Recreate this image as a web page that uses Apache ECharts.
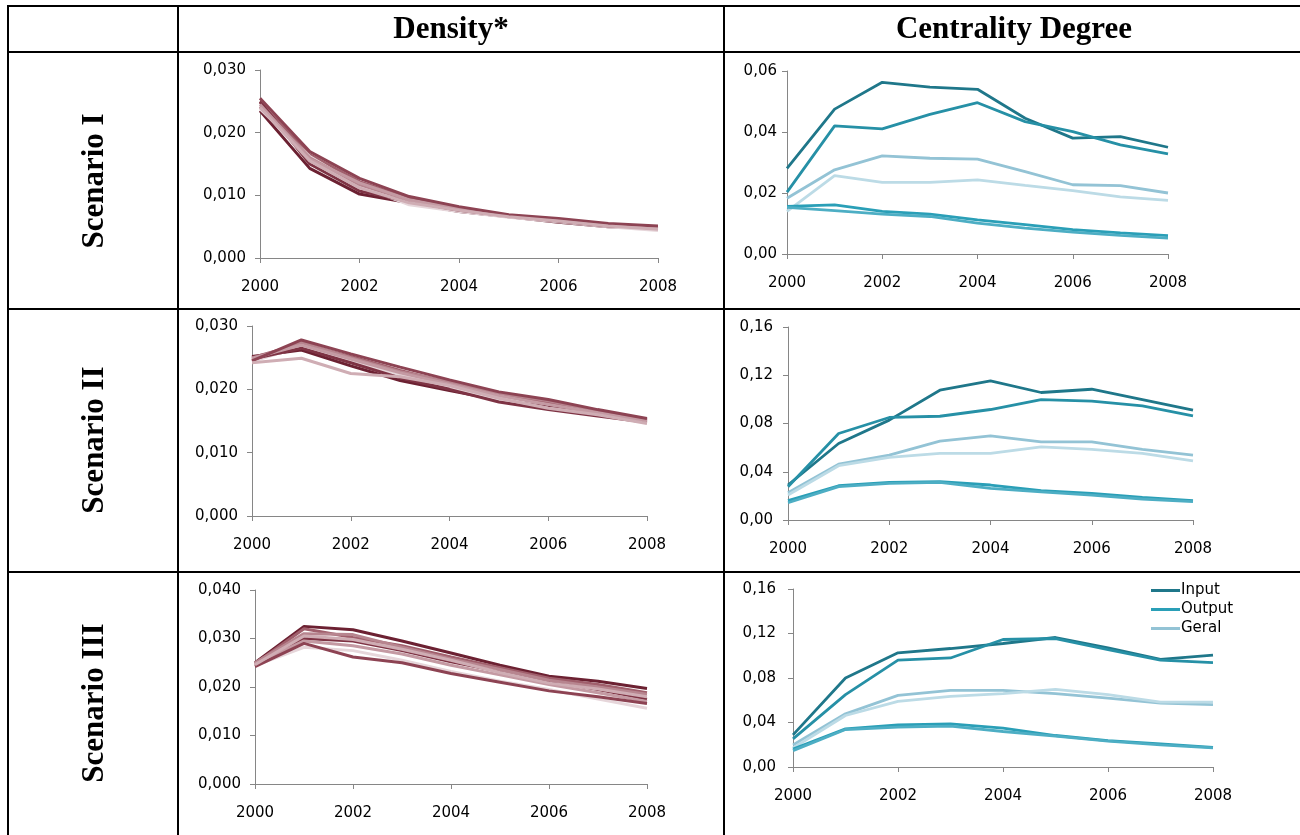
<!DOCTYPE html>
<html>
<head>
<meta charset="utf-8">
<script src="https://cdn.jsdelivr.net/npm/echarts@6/dist/echarts.min.js"></script>
<style>
html,body{margin:0;padding:0;background:#fff;}
#c{width:1300px;height:835px;}
</style>
</head>
<body>
<div id="c"></div>
<script>
// ---------------- DATA ----------------
const years = [2000, 2001, 2002, 2003, 2004, 2005, 2006, 2007, 2008];
const columnTitles = ['Density*', 'Centrality Degree'];
const rowTitles = ['Scenario I', 'Scenario II', 'Scenario III'];
const legendNames = ['Input', 'Output', 'Geral'];

// Density, Scenario I (several simulation runs)
const densityI = [
  [0.0235, 0.0143, 0.0102, 0.0088, 0.0074, 0.0066, 0.0057, 0.0050, 0.0048],
  [0.0250, 0.0150, 0.0107, 0.0090, 0.0076, 0.0067, 0.0059, 0.0051, 0.0049],
  [0.0255, 0.0170, 0.0127, 0.0098, 0.0082, 0.0069, 0.0063, 0.0055, 0.0051],
  [0.0248, 0.0165, 0.0122, 0.0095, 0.0080, 0.0068, 0.0061, 0.0053, 0.0050],
  [0.0242, 0.0160, 0.0117, 0.0092, 0.0078, 0.0067, 0.0060, 0.0052, 0.0048],
  [0.0240, 0.0155, 0.0112, 0.0088, 0.0076, 0.0066, 0.0059, 0.0051, 0.0046],
  [0.0238, 0.0162, 0.0115, 0.0085, 0.0074, 0.0065, 0.0058, 0.0050, 0.0044],
  [0.0245, 0.0158, 0.0120, 0.0093, 0.0079, 0.0068, 0.0062, 0.0054, 0.0047]
];
// Density, Scenario II
const densityII = [
  [0.0252, 0.0262, 0.0237, 0.0214, 0.0198, 0.0183, 0.0172, 0.0162, 0.0152],
  [0.0248, 0.0265, 0.0242, 0.0218, 0.0200, 0.0180, 0.0168, 0.0158, 0.0148],
  [0.0245, 0.0278, 0.0256, 0.0235, 0.0215, 0.0196, 0.0184, 0.0168, 0.0154],
  [0.0250, 0.0272, 0.0252, 0.0230, 0.0210, 0.0192, 0.0180, 0.0165, 0.0150],
  [0.0246, 0.0275, 0.0250, 0.0228, 0.0212, 0.0194, 0.0182, 0.0166, 0.0152],
  [0.0242, 0.0249, 0.0225, 0.0220, 0.0206, 0.0186, 0.0170, 0.0160, 0.0146],
  [0.0244, 0.0268, 0.0245, 0.0222, 0.0204, 0.0184, 0.0170, 0.0160, 0.0148],
  [0.0249, 0.0270, 0.0248, 0.0226, 0.0208, 0.0190, 0.0176, 0.0163, 0.0150]
];
// Density, Scenario III
const densityIII = [
  [0.0250, 0.0325, 0.0318, 0.0295, 0.0270, 0.0245, 0.0222, 0.0212, 0.0197],
  [0.0245, 0.0300, 0.0295, 0.0275, 0.0252, 0.0232, 0.0212, 0.0195, 0.0175],
  [0.0242, 0.0290, 0.0262, 0.0250, 0.0228, 0.0210, 0.0192, 0.0180, 0.0166],
  [0.0248, 0.0320, 0.0302, 0.0285, 0.0262, 0.0240, 0.0218, 0.0205, 0.0188],
  [0.0250, 0.0310, 0.0308, 0.0282, 0.0258, 0.0236, 0.0214, 0.0200, 0.0185],
  [0.0246, 0.0305, 0.0298, 0.0278, 0.0255, 0.0230, 0.0208, 0.0196, 0.0180],
  [0.0244, 0.0282, 0.0275, 0.0255, 0.0232, 0.0212, 0.0195, 0.0175, 0.0156],
  [0.0247, 0.0295, 0.0285, 0.0268, 0.0245, 0.0225, 0.0205, 0.0188, 0.0170]
];

// Centrality degree, Scenario I
const centralityI_Input  = [
  [0.0281, 0.0475, 0.0563, 0.0547, 0.0540, 0.0445, 0.0380, 0.0385, 0.0350],
  [0.0203, 0.0420, 0.0410, 0.0458, 0.0496, 0.0434, 0.0401, 0.0358, 0.0328]
];
const centralityI_Output = [
  [0.0156, 0.0161, 0.0140, 0.0131, 0.0112, 0.0096, 0.0080, 0.0069, 0.0060],
  [0.0153, 0.0142, 0.0131, 0.0123, 0.0101, 0.0085, 0.0072, 0.0061, 0.0052]
];
const centralityI_Geral  = [
  [0.0183, 0.0276, 0.0322, 0.0314, 0.0311, 0.0270, 0.0227, 0.0224, 0.0200],
  [0.0140, 0.0257, 0.0235, 0.0235, 0.0243, 0.0225, 0.0208, 0.0187, 0.0176]
];
// Centrality degree, Scenario II
const centralityII_Input  = [
  [0.0290, 0.0634, 0.0828, 0.1076, 0.1153, 0.1057, 0.1084, 0.0998, 0.0910],
  [0.0276, 0.0717, 0.0850, 0.0860, 0.0916, 0.0998, 0.0985, 0.0946, 0.0863]
];
const centralityII_Output = [
  [0.0160, 0.0284, 0.0312, 0.0317, 0.0290, 0.0243, 0.0221, 0.0188, 0.0160],
  [0.0143, 0.0276, 0.0303, 0.0312, 0.0262, 0.0234, 0.0207, 0.0174, 0.0152]
];
const centralityII_Geral  = [
  [0.0226, 0.0463, 0.0538, 0.0654, 0.0698, 0.0648, 0.0648, 0.0585, 0.0538],
  [0.0207, 0.0450, 0.0519, 0.0552, 0.0552, 0.0607, 0.0585, 0.0552, 0.0491]
];
// Centrality degree, Scenario III
const centralityIII_Input  = [
  [0.0289, 0.0800, 0.1026, 0.1065, 0.1110, 0.1164, 0.1070, 0.0968, 0.1005],
  [0.0253, 0.0650, 0.0960, 0.0980, 0.1146, 0.1155, 0.1056, 0.0960, 0.0938]
];
const centralityIII_Output = [
  [0.0162, 0.0343, 0.0379, 0.0388, 0.0349, 0.0283, 0.0238, 0.0208, 0.0177],
  [0.0147, 0.0337, 0.0358, 0.0367, 0.0319, 0.0277, 0.0232, 0.0198, 0.0171]
];
const centralityIII_Geral  = [
  [0.0198, 0.0478, 0.0644, 0.0689, 0.0689, 0.0659, 0.0620, 0.0574, 0.0560],
  [0.0171, 0.0463, 0.0590, 0.0635, 0.0659, 0.0698, 0.0650, 0.0583, 0.0583]
];

// Axis ranges
const densityMax = [0.03, 0.03, 0.04];
const densityStep = [0.01, 0.01, 0.01];
const centralityMax = [0.06, 0.16, 0.16];
const centralityStep = [0.02, 0.04, 0.04];

// ---------------- STYLE / LAYOUT ----------------
const densityColors = ['#6c2132', '#7e3344', '#8d4353', '#a05f6c', '#b7858f', '#cfadb4', '#e6d6da', '#c49aa3'];
const inputColors  = ['#1f778a', '#2690a6'];
const outputColors = ['#2a9fb7', '#4daec4'];
const geralColors  = ['#93c3d5', '#bcdbe6'];

const densityGrids = [
  {left: 260, top: 70, width: 398, height: 188, labelMargin: 14},
  {left: 252, top: 326, width: 395, height: 190, labelMargin: 14},
  {left: 255, top: 590, width: 392, height: 194, labelMargin: 14}
];
const centralityGrids = [
  {left: 787, top: 71, width: 381, height: 183, labelMargin: 10},
  {left: 788, top: 327, width: 405, height: 193, labelMargin: 15},
  {left: 793, top: 589, width: 420, height: 178, labelMargin: 17}
];

const axisColor = '#868686';
const labelFont = {color: '#000', fontFamily: 'DejaVu Sans', fontSize: 15};

const grids = [], xAxes = [], yAxes = [], series = [];

function addPanel(g, max, step, decimals) {
  const idx = grids.length;
  grids.push({left: g.left, top: g.top, width: g.width, height: g.height, containLabel: false});
  xAxes.push({
    type: 'value', gridIndex: idx, min: years[0], max: years[years.length - 1], interval: 2,
    axisLine: {show: true, lineStyle: {color: axisColor, width: 1}},
    axisTick: {show: true, length: 5, inside: false, lineStyle: {color: axisColor}},
    splitLine: {show: false},
    axisLabel: Object.assign({margin: 22, formatter: v => String(v)}, labelFont)
  });
  yAxes.push({
    type: 'value', gridIndex: idx, min: 0, max: max, interval: step,
    axisLine: {show: true, lineStyle: {color: axisColor, width: 1}},
    axisTick: {show: true, length: 5, inside: false, lineStyle: {color: axisColor}},
    splitLine: {show: false},
    axisLabel: Object.assign({margin: g.labelMargin, formatter: v => v.toFixed(decimals).replace('.', ',')}, labelFont)
  });
  return idx;
}

function addLine(idx, name, values, color, width, z) {
  series.push({
    type: 'line', name: name, xAxisIndex: idx, yAxisIndex: idx,
    data: years.map((y, i) => [y, values[i]]),
    symbol: 'none', smooth: false, z: z,
    lineStyle: {color: color, width: width},
    itemStyle: {color: color}
  });
}

const densitySets = [densityI, densityII, densityIII];
const centralitySets = [
  [centralityI_Input, centralityI_Output, centralityI_Geral],
  [centralityII_Input, centralityII_Output, centralityII_Geral],
  [centralityIII_Input, centralityIII_Output, centralityIII_Geral]
];

for (let r = 0; r < 3; r++) {
  const di = addPanel(densityGrids[r], densityMax[r], densityStep[r], 3);
  densitySets[r].forEach((vals, k) => addLine(di, 'run' + (k + 1), vals, densityColors[k], 3, 2 + (k % 3)));
  const ci = addPanel(centralityGrids[r], centralityMax[r], centralityStep[r], 2);
  const [inp, out, ger] = centralitySets[r];
  inp.forEach((v, k) => addLine(ci, 'Input', v, inputColors[k], 2.8, 3));
  out.forEach((v, k) => addLine(ci, 'Output', v, outputColors[k], 2.8, 3));
  ger.forEach((v, k) => addLine(ci, 'Geral', v, geralColors[k], 2.8, 2));
}

// table frame
const lines = [
  [8, 6, 1300, 6], [8, 52, 1300, 52], [8, 309, 1300, 309], [8, 572, 1300, 572],
  [8, 5, 8, 835], [178, 5, 178, 835], [724, 5, 724, 835]
];
const graphics = lines.map(l => ({
  type: 'line', shape: {x1: l[0], y1: l[1], x2: l[2], y2: l[3]},
  style: {stroke: '#000', lineWidth: 2}, silent: true, z: 10
}));
const titleFont = 'bold 31px "Liberation Serif"';
graphics.push({type: 'text', x: 451, y: 30, style: {text: columnTitles[0], font: titleFont, fill: '#000', textAlign: 'center', textVerticalAlign: 'middle'}});
graphics.push({type: 'text', x: 1014, y: 30, style: {text: columnTitles[1], font: titleFont, fill: '#000', textAlign: 'center', textVerticalAlign: 'middle'}});
const rowCenters = [181, 440, 703];
rowTitles.forEach((t, i) => graphics.push({
  type: 'text', x: 95, y: rowCenters[i], rotation: Math.PI / 2,
  style: {text: t, font: titleFont, fill: '#000', textAlign: 'center', textVerticalAlign: 'middle'}
}));

const chart = echarts.init(document.getElementById('c'), null, {renderer: 'canvas'});
chart.setOption({
  animation: false,
  backgroundColor: '#fff',
  grid: grids, xAxis: xAxes, yAxis: yAxes, series: series,
  legend: {
    data: legendNames, orient: 'vertical', left: 1146, top: 578,
    icon: 'rect', itemWidth: 29, itemHeight: 3, itemGap: 4,
    textStyle: {color: '#000', fontFamily: 'DejaVu Sans', fontSize: 15, padding: [0, 0, 0, -4]},
    selectedMode: false
  },
  graphic: graphics
});
</script>
</body>
</html>
